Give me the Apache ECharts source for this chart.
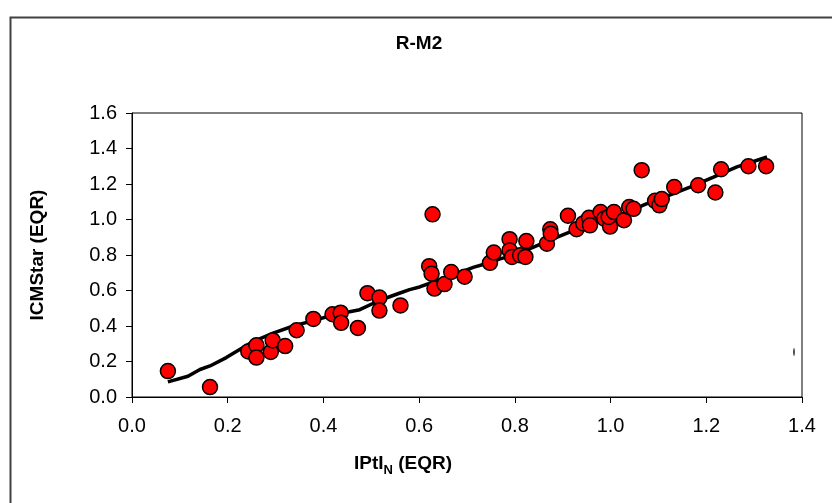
<!DOCTYPE html>
<html>
<head>
<meta charset="utf-8">
<script src="https://cdn.jsdelivr.net/npm/echarts@6/dist/echarts.min.js"></script>
<style>html,body{margin:0;padding:0;background:#fff;}#c{width:832px;height:503px;}</style>
</head>
<body>
<div id="c"></div>
<script>
// Observed points: IPtI_N (EQR) vs ICMStar (EQR)
const pointX = [0.075,0.163,0.243,0.260,0.260,0.290,0.294,0.320,0.344,0.379,0.419,0.436,0.437,0.472,0.492,0.517,0.517,0.561,0.628,0.621,0.626,0.632,0.653,0.667,0.695,0.748,0.756,0.789,0.789,0.794,0.811,0.822,0.824,0.867,0.874,0.875,0.911,0.929,0.943,0.955,0.957,0.979,0.987,0.999,0.996,1.007,1.028,1.039,1.048,1.065,1.093,1.102,1.107,1.133,1.183,1.219,1.231,1.288,1.325];
const pointY = [0.146,0.056,0.257,0.291,0.222,0.254,0.319,0.287,0.376,0.440,0.466,0.475,0.418,0.389,0.585,0.560,0.487,0.516,1.029,0.737,0.695,0.611,0.636,0.704,0.678,0.756,0.814,0.889,0.826,0.789,0.798,0.789,0.879,0.864,0.945,0.920,1.021,0.945,0.978,1.010,0.967,1.042,1.005,0.960,1.014,1.042,0.996,1.070,1.060,1.278,1.105,1.080,1.115,1.183,1.193,1.152,1.283,1.300,1.300];
// Smoothed trend line
const trendX = [0.075,0.117,0.142,0.163,0.197,0.225,0.253,0.295,0.337,0.379,0.420,0.476,0.518,0.560,0.580,0.601,0.630,0.671,0.713,0.741,0.769,0.797,0.839,0.881,0.922,0.964,1.027,1.076,1.118,1.166,1.215,1.264,1.327];
const trendY = [0.085,0.117,0.155,0.175,0.222,0.268,0.312,0.360,0.400,0.430,0.462,0.492,0.545,0.586,0.605,0.620,0.648,0.686,0.730,0.752,0.778,0.798,0.845,0.892,0.937,0.983,1.033,1.090,1.131,1.183,1.239,1.296,1.352];
const xTicks = [0.0,0.2,0.4,0.6,0.8,1.0,1.2,1.4];
const yTicks = [0.0,0.2,0.4,0.6,0.8,1.0,1.2,1.4,1.6];
const titleText = 'R-M2';
const xName = ['IPtI','N',' (EQR)'];
const yName = 'ICMStar (EQR)';

const points = pointX.map((x,i)=>[x,pointY[i]]);
const trend = trendX.map((x,i)=>[x,trendY[i]]);
const font = 'Liberation Sans, Arial, sans-serif';

const chart = echarts.init(document.getElementById('c'), null, {renderer:'canvas'});
chart.setOption({
  animation:false,
  backgroundColor:'#fff',
  grid:{left:132,right:30,top:113,bottom:106,show:true,borderColor:'#000',borderWidth:1,backgroundColor:'transparent'},
  xAxis:{type:'value',min:xTicks[0],max:xTicks[xTicks.length-1],interval:0.2,
    axisLine:{lineStyle:{color:'#000',width:1}},
    axisTick:{show:true,inside:false,length:6,lineStyle:{color:'#000'}},
    axisLabel:{color:'#000',fontFamily:font,fontSize:20,margin:19,formatter:v=>v.toFixed(1)},
    splitLine:{show:false}},
  yAxis:{type:'value',min:yTicks[0],max:yTicks[yTicks.length-1],interval:0.2,
    axisLine:{show:true,lineStyle:{color:'#000',width:1}},
    axisTick:{show:true,inside:false,length:6,lineStyle:{color:'#000'}},
    axisLabel:{color:'#000',fontFamily:font,fontSize:20,margin:15,formatter:v=>v.toFixed(1)},
    splitLine:{show:false}},
  series:[
    {type:'line',data:trend,showSymbol:false,symbol:'none',smooth:false,z:3,
      lineStyle:{color:'#000',width:3.5}},
    {type:'scatter',data:points,symbol:'circle',symbolSize:15,z:4,
      itemStyle:{color:'#ff0000',borderColor:'#000',borderWidth:1.5,opacity:1}}
  ],
  graphic:[
    {type:'rect',left:8,top:15,shape:{width:900,height:600},style:{fill:'none',stroke:'#404040',lineWidth:2},silent:true,z:-1},
    {type:'text',x:419,y:44,style:{text:titleText,fill:'#000',font:'bold 19px '+font,textAlign:'center',textVerticalAlign:'middle'}},
    {type:'text',x:38,y:255,rotation:Math.PI/2,style:{text:yName,fill:'#000',font:'bold 19px '+font,textAlign:'center',textVerticalAlign:'middle'}},
    {type:'text',x:403,y:464,style:{
      text:'{a|'+xName[0]+'}{s|'+xName[1]+'}{a|'+xName[2]+'}',
      textAlign:'center',textVerticalAlign:'middle',
      rich:{a:{fill:'#000',font:'bold 19px '+font},s:{fill:'#000',font:'bold 13px '+font,padding:[12,0,0,0]}}}},
    {type:'ellipse',shape:{cx:794,cy:352,rx:0.7,ry:4},style:{fill:'#000'}}
  ]
});
</script>
</body>
</html>
